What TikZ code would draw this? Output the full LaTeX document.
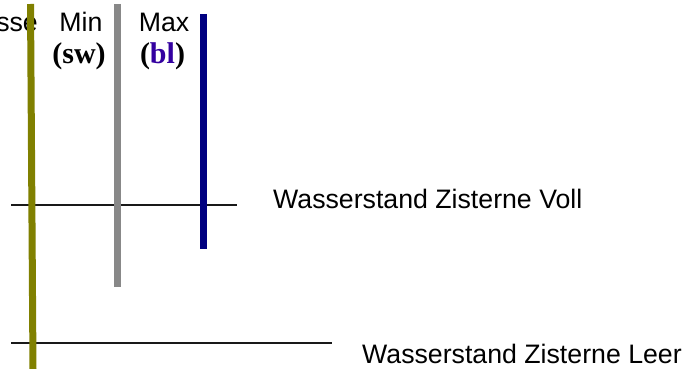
\documentclass[tikz,border=0pt]{standalone}
\usepackage{fontspec}
\setmainfont{Liberation Serif}
\setsansfont{Liberation Sans}
\definecolor{olivebar}{HTML}{808000}
\definecolor{graybar}{HTML}{888888}
\definecolor{navybar}{HTML}{000080}
\definecolor{bltext}{HTML}{3300A0}
\tikzset{
  level/.style={line width=2.2pt, draw=black!90},
  bar/.style={line width=7pt},
  lbl/.style={font=\sffamily\fontsize{26.7}{30}\selectfont, inner sep=0pt, anchor=base},
  sub/.style={font=\rmfamily\bfseries\fontsize{30}{34}\selectfont, inner sep=0pt, anchor=base}
}
\begin{document}
\begin{tikzpicture}[x=1pt,y=-1pt]
\useasboundingbox (0,0) rectangle (691,369);
\clip (0,0) rectangle (691,369);
% levels
\coordinate (v1) at (11,205);
\coordinate (v2) at (237,205);
\coordinate (l1) at (11,343);
\coordinate (l2) at (332,343);
\draw[level] (v1) -- (v2);
\draw[level] (l1) -- (l2);
% labels
\node[lbl, anchor=base west] (voll) at (273,208) {Wasserstand Zisterne Voll};
\node[lbl, anchor=base west] (leer) at (362,363) {Wasserstand Zisterne Leer};
\node[lbl, anchor=base east] (sse) at (38,32) {sse};
\node[lbl] (min) at (81,32) {Min};
\node[lbl] (max) at (164,32) {Max};
\node[sub] (sw) at (79,64) {(sw)};
\node[sub] (bl) at (162.5,64) {(\textcolor{bltext}{bl})};
% bars
\coordinate (o1) at (30.5,4);
\coordinate (o2) at (33,369);
\coordinate (g1) at (117.5,4);
\coordinate (g2) at (117.5,287);
\coordinate (b1) at (203,14);
\coordinate (b2) at (203,249);
\draw[bar, olivebar] (o1) -- (o2);
\draw[bar, graybar] (g1) -- (g2);
\draw[bar, navybar] (b1) -- (b2);
\end{tikzpicture}
\end{document}
